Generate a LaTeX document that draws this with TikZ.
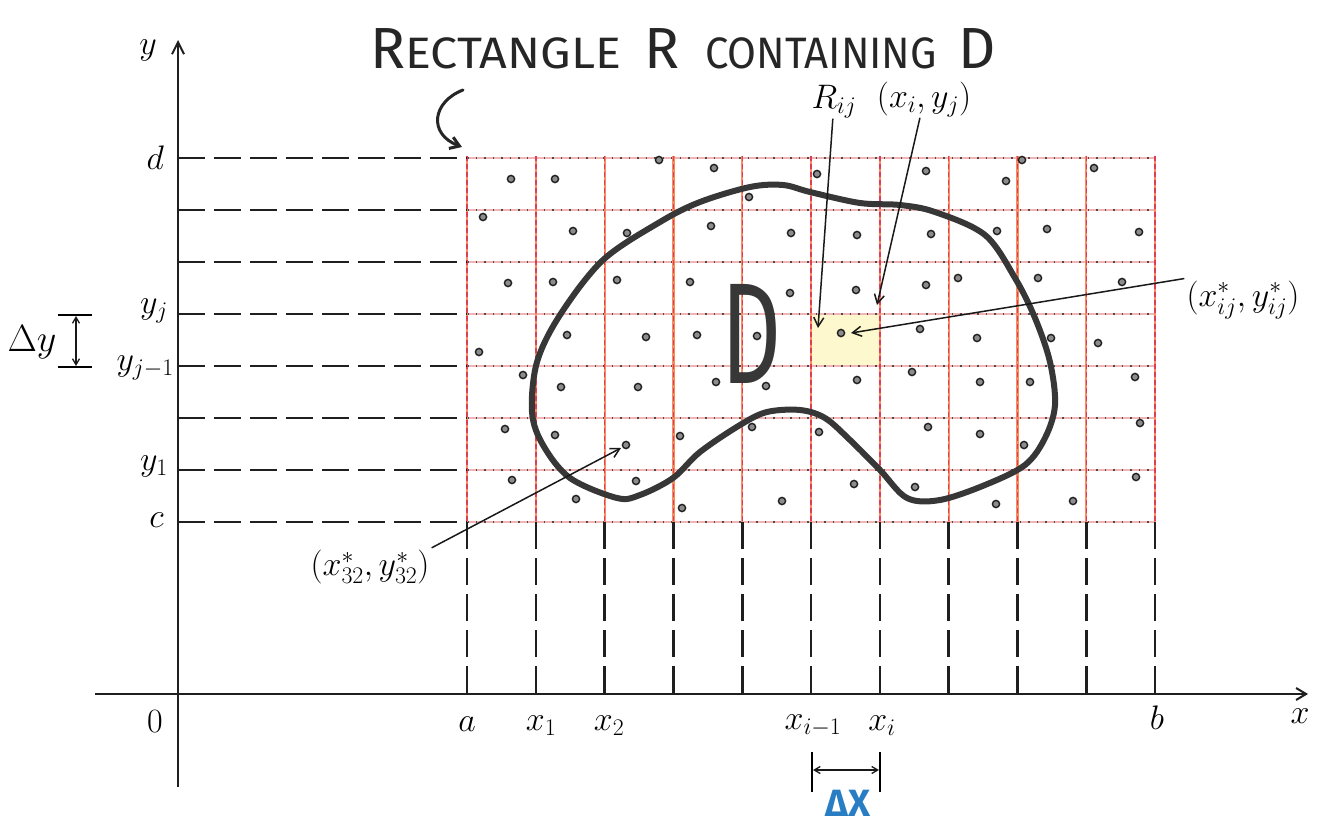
\RequirePackage{fix-cm}
\documentclass[tikz,border=0pt]{standalone}
\usepackage{fontspec}
\usetikzlibrary{arrows.meta}
\newfontfamily\handfont{Fira Sans}
\definecolor{gridred}{RGB}{225,60,85}
\definecolor{gridorange}{RGB}{244,140,95}
\definecolor{gridpink}{RGB}{242,180,180}
\definecolor{cellyellow}{RGB}{253,248,205}
\definecolor{curvegray}{RGB}{55,55,55}
\definecolor{dxblue}{RGB}{40,125,195}
\newcommand\titbig{\fontsize{58}{60}\selectfont}
\newcommand\titsmall{\fontsize{44}{48}\selectfont}
\tikzset{
  axisline/.style={line width=2pt, draw=black!88},
  dashln/.style={line width=2.6pt, draw=black!88, dash pattern=on 27pt off 9pt},
  gridvbase/.style={line width=2.2pt, draw=gridorange},
  gridvtop/.style={line width=1.4pt, draw=gridred, dash pattern=on 5pt off 3pt},
  gridhbase/.style={line width=2.2pt, draw=gridpink},
  gridhtop/.style={line width=1.6pt, draw=black!70, dash pattern=on 1.5pt off 7pt},
  dotst/.style={draw=black!88, fill=black!45, line width=1.4pt},
  region/.style={line width=6pt, draw=curvegray, line join=round},
  ptr/.style={line width=1.5pt, draw=black!90, -{Straight Barb[length=9pt,width=10pt]}},
  dptr/.style={line width=1.3pt, draw=black!90, {Straight Barb[length=6pt,width=7pt]}-{Straight Barb[length=6pt,width=7pt]}},
  lbl/.style={font=\fontsize{34}{40}\selectfont, inner sep=2pt},
  hand/.style={font=\handfont, inner sep=0pt, text=black!85}
}
\begin{document}
\begin{tikzpicture}[x=1pt,y=-1pt]
\useasboundingbox (0,0) rectangle (1322,835);
% highlighted cell R_ij
\fill[cellyellow] (811,314) rectangle (879.8,366);
% coordinates
\foreach \i in {0,...,10}{
  \coordinate (T\i) at ({467+68.8*\i},156);
  \coordinate (B\i) at ({467+68.8*\i},522);
  \coordinate (X\i) at ({467+68.8*\i},694);
}
\foreach \j in {0,...,7}{
  \coordinate (L\j) at (178,{522-52*\j});
  \coordinate (A\j) at (467,{522-52*\j});
  \coordinate (R\j) at (1155,{522-52*\j});
}
% grid inside R
\foreach \j in {0,...,7}{
  \draw[gridhbase] (A\j) -- (R\j);
  \draw[gridhtop] (A\j) -- (R\j);
}
\foreach \i in {0,...,10}{
  \draw[gridvbase] (T\i) -- (B\i);
  \draw[gridvtop] (T\i) -- (B\i);
}
% black dashed projection lines
\foreach \j in {0,...,7}{ \draw[dashln] (L\j) -- (A\j); }
\foreach \i in {0,...,10}{ \draw[dashln] (B\i) -- (X\i); }
% axes
\coordinate (xstart) at (95,694);
\coordinate (xend) at (1308,694);
\coordinate (ybot) at (178,787);
\coordinate (ytop) at (178,40);
\draw[axisline, -{Straight Barb[length=10pt,width=12pt]}] (xstart) -- (xend);
\draw[axisline, -{Straight Barb[length=12pt,width=12pt]}] (ybot) -- (ytop);
% region D
\draw[region] plot[smooth cycle, tension=0.55] coordinates {
 (700,202) (750,187) (783,185) (810,192) (860,203) (900,205) (935,212)
 (985,235) (1015,278) (1035,318) (1050,362) (1055,405) (1045,438)
 (1025,465) (985,485) (940,500) (907,498) (880,470) (850,440) (825,418)
 (800,410) (767,412) (740,425) (700,452) (673,478) (640,495) (617,498)
 (570,478) (543,445) (532,412) (537,362) (560,315) (603,260) (660,222)};
% sample points
\foreach \x/\y in {511/179,555/179,659/160,483/217,573/231,627/233,508/283,553/282,617/280,690/282,567/335,646/337,479/352,523/375,561/387,638/387,505/429,555/435,626/445,680/436,512/480,636/481,576/499,682/508,697/335,
714/168,817/174,926/171,749/197,711/226,791/233,857/235,931/234,790/293,856/290,926/285,757/336,841/333,920/329,716/382,766/386,857/380,912/372,752/427,819/432,928/427,854/484,915/487,782/501,
1022/160,1094/168,1006/181,997/231,1047/229,1139/232,958/278,1038/278,1122/282,977/338,1051/338,1098/343,980/382,1030/382,1135/377,980/434,1024/445,1140/423,1136/477,996/504,1073/501}
  { \draw[dotst] (\x,\y) circle (3.6pt); }
% big D
\node[inner sep=0pt, text=curvegray] (Dlabel) at (752,334) {\resizebox{60pt}{99pt}{\handfont D}};
% title
\node[hand, anchor=base west] (t1) at (370,68) {\titbig R\titsmall\scalebox{1.1}[1]{ECTANGLE}};
\node[hand, anchor=base west] (t2) at (644,68) {\titbig R};
\node[hand, anchor=base west] (t3) at (705,68) {\titsmall\scalebox{0.95}[1]{CONTAINING}};
\node[hand, anchor=base west] (t4) at (958,68) {\titbig D};
\coordinate (hookS) at (463,90);
\coordinate (hookE) at (462,147);
\draw[line width=3pt, draw=black!85, line cap=round, -{Straight Barb[length=9pt,width=12pt]}] (hookS) .. controls (432,102) and (428,134) .. (hookE);
% axis labels
\node[lbl] (ylab) at (148,50) {$y$};
\node[lbl] (xlab) at (1300,716) {$x$};
\node[lbl] (zero) at (155,722) {$0$};
\node[lbl, anchor=east] (dlab) at (166,158) {$d$};
\node[lbl, anchor=east] (yjlab) at (170,311) {$y_j$};
\node[lbl, anchor=east] (yj1lab) at (176,368) {$y_{j-1}$};
\node[lbl, anchor=east] (y1lab) at (170,466) {$y_1$};
\node[lbl, anchor=east] (clab) at (166,520) {$c$};
\node[lbl] (alab) at (467,724) {$a$};
\node[lbl] (x1lab) at (541,726) {$x_1$};
\node[lbl] (x2lab) at (609,726) {$x_2$};
\node[lbl] (xi1lab) at (813,726) {$x_{i-1}$};
\node[lbl] (xilab) at (882,726) {$x_i$};
\node[lbl] (blab) at (1157,718) {$b$};
% Delta y
\coordinate (dyt1) at (58,315); \coordinate (dyt2) at (92,315);
\coordinate (dyb1) at (58,367); \coordinate (dyb2) at (92,367);
\coordinate (dya) at (76,316); \coordinate (dyb) at (76,366);
\draw[line width=1.5pt] (dyt1) -- (dyt2);
\draw[line width=1.5pt] (dyb1) -- (dyb2);
\draw[dptr] (dya) -- (dyb);
\node[lbl, font=\fontsize{38}{44}\selectfont] (dylab) at (32,342) {$\Delta y$};
% Delta x
\coordinate (dxl1) at (812,752); \coordinate (dxl2) at (812,792);
\coordinate (dxr1) at (880,752); \coordinate (dxr2) at (880,792);
\coordinate (dxa) at (813,770); \coordinate (dxb) at (879,770);
\draw[line width=1.5pt] (dxl1) -- (dxl2);
\draw[line width=1.5pt] (dxr1) -- (dxr2);
\draw[dptr] (dxa) -- (dxb);
\node[inner sep=0pt, text=dxblue, font=\handfont\bfseries\fontsize{38}{40}\selectfont] (dxlab) at (848,803) {ΔX};
% annotations
\node[lbl, inner sep=0pt] (Rij) at (834,102) {$R_{ij}$};
\coordinate (RijTip) at (818,328);
\draw[ptr] (Rij) -- (RijTip);
\node[lbl, inner sep=0pt] (xiyj) at (924,100) {$(x_i, y_j)$};
\coordinate (xiyjTip) at (877,305);
\draw[ptr] (xiyj) -- (xiyjTip);
\node[lbl] (xsij) at (1243,300) {$(x^*_{ij}, y^*_{ij})$};
\coordinate (xsijTip) at (851,333);
\draw[ptr] (xsij.north west) -- (xsijTip);
\node[lbl] (xs32) at (370,567) {$(x^*_{32}, y^*_{32})$};
\coordinate (xs32Tip) at (621,448);
\draw[ptr] (xs32.north east) -- (xs32Tip);
\end{tikzpicture}
\end{document}
